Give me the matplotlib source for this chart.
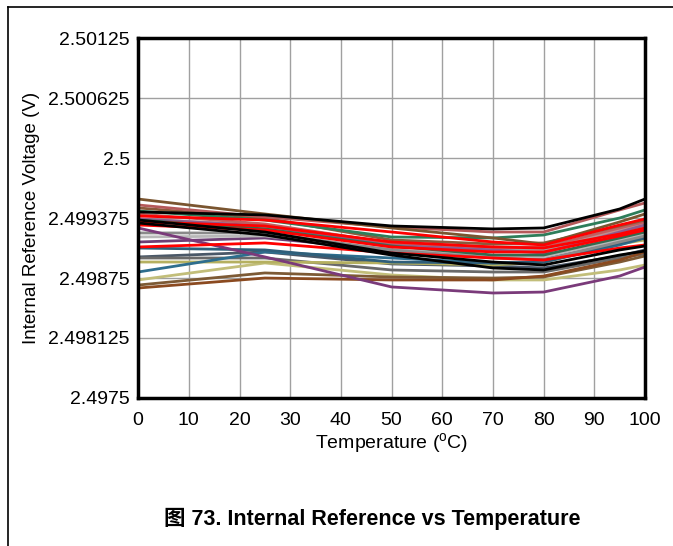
import matplotlib as mpl
mpl.use('Agg')
import matplotlib.pyplot as plt
from matplotlib.lines import Line2D

# temperature points (degC)
temps = [0, 25, 50, 70, 80, 95, 100]

# internal reference voltage per unit (V)
v_brown_top = [2.499574, 2.499418, 2.499272, 2.499168, 2.499105, 2.499335, 2.499418]
v_black_top = [2.499439, 2.499408, 2.499293, 2.499262, 2.499272, 2.499470, 2.499574]
v_rosy_top = [2.499512, 2.499387, 2.499282, 2.499230, 2.499230, 2.499460, 2.499533]
v_green_top = [2.499449, 2.499355, 2.499178, 2.499168, 2.499199, 2.499376, 2.499460]
v_red_top = [2.499397, 2.499355, 2.499230, 2.499126, 2.499095, 2.499303, 2.499366]
v_brown_a = [2.499481, 2.499376, 2.499147, 2.499105, 2.499116, 2.499293, 2.499355]
v_rosy_b = [2.499418, 2.499314, 2.499116, 2.499074, 2.499074, 2.499272, 2.499335]
v_pink = [2.499366, 2.499303, 2.499116, 2.499063, 2.499053, 2.499251, 2.499314]
v_gray_a = [2.499324, 2.499272, 2.499074, 2.499043, 2.499043, 2.499220, 2.499293]
v_purple_a = [2.499366, 2.499293, 2.499095, 2.499043, 2.499011, 2.499230, 2.499303]
v_green_b = [2.499355, 2.499262, 2.499084, 2.498990, 2.498990, 2.499168, 2.499230]
v_black_b = [2.499324, 2.499199, 2.498990, 2.498855, 2.498834, 2.498990, 2.499032]
v_red_b = [2.499303, 2.499251, 2.499074, 2.499022, 2.499022, 2.499189, 2.499251]
v_purple_main = [2.499272, 2.498970, 2.498657, 2.498594, 2.498604, 2.498771, 2.498865]
v_gray_b = [2.499220, 2.499220, 2.499043, 2.498959, 2.498938, 2.499126, 2.499189]
v_gray_light = [2.499178, 2.499189, 2.499043, 2.498980, 2.498970, 2.499147, 2.499209]
v_purple_b = [2.499126, 2.499168, 2.499043, 2.498970, 2.498959, 2.499147, 2.499220]
v_red_c = [2.499074, 2.499116, 2.499011, 2.498959, 2.498938, 2.499063, 2.499095]
v_blue_a = [2.499063, 2.499043, 2.498917, 2.498907, 2.498917, 2.499116, 2.499168]
v_slate = [2.498970, 2.499022, 2.498897, 2.498876, 2.498855, 2.498980, 2.499043]
v_khaki_a = [2.498917, 2.498917, 2.498907, 2.498886, 2.498917, 2.499105, 2.499147]
v_blue_b = [2.498813, 2.499022, 2.498959, 2.498907, 2.498917, 2.499095, 2.499168]
v_gray_c = [2.498959, 2.498959, 2.498834, 2.498813, 2.498813, 2.498959, 2.499001]
v_khaki_b = [2.498730, 2.498907, 2.498782, 2.498730, 2.498730, 2.498834, 2.498886]
v_brown_b = [2.498677, 2.498803, 2.498761, 2.498750, 2.498761, 2.498917, 2.498980]
v_brown_c = [2.498646, 2.498750, 2.498730, 2.498730, 2.498771, 2.498938, 2.499022]
v_black_c = [2.499355, 2.499230, 2.499011, 2.498917, 2.498886, 2.499043, 2.499084]
v_red_d = [2.499335, 2.499293, 2.499126, 2.499074, 2.499063, 2.499209, 2.499272]

series = [
    (v_slate, '#4a5868'), (v_gray_c, '#6a6a6a'), (v_khaki_b, '#c2be7a'),
    (v_brown_b, '#7d5a35'), (v_brown_c, '#8b4a20'), (v_khaki_a, '#b5b060'),
    (v_blue_b, '#2e6e8e'), (v_blue_a, '#2f5f7a'), (v_purple_b, '#6e3f75'),
    (v_gray_light, '#b8b8b8'), (v_gray_b, '#8a8a8a'), (v_pink, '#c09090'),
    (v_gray_a, '#a0a0a0'), (v_purple_a, '#8e5c8e'), (v_rosy_b, '#c06060'),
    (v_brown_a, '#8b5a3c'), (v_green_b, '#356b4f'), (v_green_top, '#2e7d5a'),
    (v_rosy_top, '#b5595a'), (v_brown_top, '#7a5530'), (v_purple_main, '#7a3a7a'),
    (v_red_c, '#ff0000'), (v_red_b, '#ff0000'), (v_red_d, '#ff0000'),
    (v_red_top, '#ff0000'), (v_black_c, '#000000'), (v_black_b, '#000000'),
    (v_black_top, '#000000'),
]

yticks = [2.4975, 2.498125, 2.49875, 2.499375, 2.5, 2.500625, 2.50125]
ytick_labels = ['2.4975', '2.498125', '2.49875', '2.499375', '2.5', '2.500625', '2.50125']
xticks = [0, 10, 20, 30, 40, 50, 60, 70, 80, 90, 100]

plt.rcParams['font.family'] = ['Liberation Sans', 'Noto Sans CJK SC', 'DejaVu Sans']

fig = plt.figure(figsize=(6.73, 5.46), dpi=100)
ax = fig.add_axes([0.2053, 0.2712, 0.7531, 0.6587])

for vals, col in series:
    ax.plot(temps, vals, color=col, linewidth=2.0, solid_joinstyle='round')

ax.set_xlim(0, 100)
ax.set_ylim(2.4975, 2.50125)
ax.set_xticks(xticks)
ax.set_yticks(yticks)
ax.set_yticklabels(ytick_labels)
ax.tick_params(axis='both', length=0, labelsize=14)
ax.tick_params(axis='x', pad=10)
ax.tick_params(axis='y', pad=6)
ax.grid(True, color='#a0a0a0', linewidth=1.0)
ax.set_axisbelow(True)
for s in ax.spines.values():
    s.set_linewidth(2.5)
    s.set_color('black')

ax.set_xlabel('Temperature ($^{\\mathregular{o}}$C)', fontsize=14, labelpad=2)
ax.set_ylabel('Internal Reference Voltage (V)', fontsize=13.5, labelpad=6)

fig.text(0.553, 0.049, '图 73. Internal Reference vs Temperature', ha='center', va='center',
         fontsize=15.5, fontweight='bold')

# page frame (top and left edges)
fig.add_artist(Line2D([8 / 673, 1.0], [1 - 7 / 546, 1 - 7 / 546], color='black', linewidth=1.2))
fig.add_artist(Line2D([8 / 673, 8 / 673], [0.0, 1 - 7 / 546], color='black', linewidth=1.2))

plt.savefig('out.png', dpi=100)
